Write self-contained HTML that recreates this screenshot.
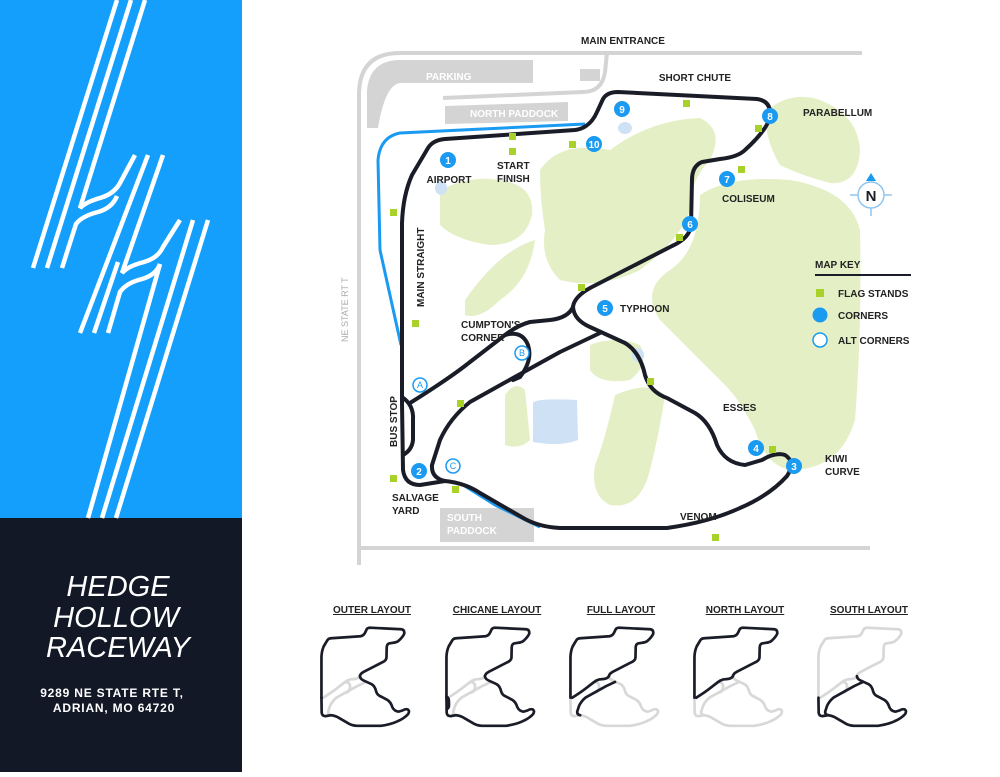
<!DOCTYPE html>
<html><head><meta charset="utf-8"><style>
html,body{margin:0;padding:0;background:#fff}
body{width:1000px;height:772px;position:relative;overflow:hidden;font-family:"Liberation Sans",sans-serif}
svg text{font-family:"Liberation Sans Narrow","Liberation Sans",sans-serif}
</style></head><body>
<svg width="1000" height="772" viewBox="0 0 1000 772" xmlns="http://www.w3.org/2000/svg">
<defs>
<path id="ptop" d="M402,403 L402,223 Q403,195 412,175 L428,148 Q433,140 445,139 L575,130 Q590,128 597,112 L603,99 Q607,92 618,92 L757,99 Q772,101 770,118 Q765,132 745,150 Q738,157 720,159 L702,162 Q692,166 692,180 L691,225 Q690,238 672,246 L590,288 Q574,297 573,307"/>
<path id="psouth" d="M573,307 Q574,320 590,327 L625,343 Q640,352 645,375 Q650,392 667,398 L695,413 Q710,422 717,445 Q725,463 745,465 L762,460 Q775,452 785,455 Q796,462 787,476 Q770,495 740,508 Q710,522 667,528 L560,528 Q540,527 525,519 L480,493 Q465,483 445,481 L420,485 Q405,485 403,470 L402,403"/>
<path id="pa" d="M573,307 Q568,318 550,320 L530,322 Q518,325 505,335 L470,362 Q450,378 410,403"/>
<path id="pdiag" d="M600,333 L560,352 L513,378 L470,402 Q450,418 440,440 L432,465 Q431,478 445,481"/>
<path id="pb" d="M505,335 Q522,330 528,345 Q533,360 520,377 L513,380"/>
<path id="pbus" d="M402,397 Q414,405 413,420 L413,440 Q412,450 403,455"/>
</defs>

<rect x="0" y="0" width="242" height="518" fill="#139ffb"/>
<rect x="0" y="518" width="242" height="254" fill="#131827"/>
<g stroke="#fff" stroke-width="4.5" fill="none">
<line x1="117" y1="0" x2="33" y2="268"/>
<line x1="131" y1="0" x2="47" y2="268"/>
<path d="M145,0 L80,208 Q86,202 100,198 Q114,194 120,183 L135,155"/>
<path d="M62,268 L76,224 Q82,216 98,212 Q112,208 117,196"/>
<line x1="148" y1="155" x2="80" y2="333"/>
<path d="M163,155 L122,273 Q128,266 144,262 Q158,258 163,247 L180,220"/>
<path d="M108,333 L120,292 Q126,283 142,279 Q156,275 160,264"/>
<path d="M94,333 L118,262"/>
<line x1="193" y1="220" x2="102" y2="518"/>
<line x1="208" y1="220" x2="116" y2="518"/>
<path d="M160,264 L88,518"/>
</g>
<g fill="#fff" font-style="italic" font-size="29" text-anchor="middle">
<text x="118" y="596" style="font-family:'Liberation Sans',sans-serif">HEDGE</text>
<text x="116" y="627" style="font-family:'Liberation Sans',sans-serif">HOLLOW</text>
<text x="118" y="657" style="font-family:'Liberation Sans',sans-serif">RACEWAY</text>
</g>
<g fill="#fff" font-weight="bold" font-size="12" text-anchor="middle" letter-spacing="0.8">
<text x="112" y="697" style="font-family:'Liberation Sans',sans-serif">9289 NE STATE RTE T,</text>
<text x="114" y="712" style="font-family:'Liberation Sans',sans-serif">ADRIAN, MO 64720</text>
</g>

<g fill="none" stroke="#d4d4d4" stroke-width="4">
<path d="M359,565 L359,95 Q359,53 400,53 L862,53"/>
<path d="M359,548 L870,548"/>
<path d="M607,53 L605,72 Q602,92 583,92 L443,98"/>
</g>
<path d="M367,128 L367,90 Q370,60 400,60 L533,60 L533,83 L400,83 Q385,85 378,128 Z" fill="#d4d4d4"/>
<rect x="580" y="69" width="20" height="12" fill="#d4d4d4"/>
<polygon points="445,106 568,102 568,121 445,124" fill="#d4d4d4"/>
<rect x="440" y="508" width="94" height="34" fill="#d4d4d4"/>
<g fill="#fff" font-size="10" font-weight="bold">
<text x="426" y="80">PARKING</text>
<text x="470" y="117">NORTH PADDOCK</text>
<text x="447" y="521">SOUTH</text>
<text x="447" y="534">PADDOCK</text>
</g>

<g fill="#e4efc6">
<path d="M765,112 Q790,90 820,100 Q858,115 860,150 Q858,185 830,183 Q800,175 780,165 Q765,140 765,112Z"/>
<path d="M700,195 Q730,175 790,180 Q850,190 860,230 Q862,330 855,420 Q840,470 790,470 Q765,465 755,430 Q740,400 725,385 Q700,360 660,320 Q640,290 670,270 Q700,250 700,195Z"/>
<path d="M540,170 Q560,140 610,150 Q650,120 700,118 Q725,130 710,160 Q690,180 690,210 Q680,240 640,270 Q600,290 560,280 Q540,260 545,230 Q540,200 540,170Z"/>
<path d="M440,190 Q470,175 500,180 Q535,185 532,215 Q525,245 490,245 Q455,240 440,225Z"/>
<path d="M465,300 Q500,250 535,240 Q530,280 500,300 Q480,320 465,315Z"/>
<path d="M590,345 Q615,335 640,345 Q650,365 630,380 Q600,385 590,370Z"/>
<path d="M505,395 Q515,380 525,390 L530,440 Q520,450 505,445Z"/>
<path d="M615,395 Q650,380 665,395 Q660,430 650,470 Q640,510 610,505 Q590,495 595,465 Q605,440 615,395Z"/>
</g>
<g fill="#cfe2f5">
<ellipse cx="441" cy="188" rx="6" ry="7"/>
<ellipse cx="625" cy="128" rx="7" ry="6"/>
<ellipse cx="638" cy="355" rx="6" ry="7"/>
<path d="M533,403 Q535,398 577,400 L578,440 Q560,447 533,442Z"/>
</g>

<g fill="none" stroke="#1a9af0" stroke-width="3">
<path d="M585,124 L400,133 Q380,137 378,160 L380,250 L401,345"/>
<path d="M460,483 L495,505 L540,527"/>
</g>

<g fill="none" stroke="#1a1d27" stroke-width="4" stroke-linejoin="round" stroke-linecap="round">
<use href="#ptop"/><use href="#psouth"/><use href="#pa"/><use href="#pdiag"/><use href="#pb"/><use href="#pbus"/>
</g>

<g fill="#a8d22a">
<rect x="509" y="148" width="7" height="7"/><rect x="509" y="133" width="7" height="7"/>
<rect x="390" y="209" width="7" height="7"/><rect x="412" y="320" width="7" height="7"/>
<rect x="390" y="475" width="7" height="7"/><rect x="457" y="400" width="7" height="7"/>
<rect x="452" y="486" width="7" height="7"/><rect x="712" y="534" width="7" height="7"/>
<rect x="769" y="446" width="7" height="7"/><rect x="647" y="378" width="7" height="7"/>
<rect x="569" y="141" width="7" height="7"/><rect x="676" y="234" width="7" height="7"/>
<rect x="738" y="166" width="7" height="7"/><rect x="755" y="125" width="7" height="7"/>
<rect x="683" y="100" width="7" height="7"/><rect x="578" y="284" width="7" height="7"/>
</g>

<g fill="#1a9af0">
<circle cx="448" cy="160" r="8"/><circle cx="419" cy="471" r="8"/><circle cx="794" cy="466" r="8"/>
<circle cx="756" cy="448" r="8"/><circle cx="605" cy="308" r="8"/><circle cx="690" cy="224" r="8"/>
<circle cx="727" cy="179" r="8"/><circle cx="770" cy="116" r="8"/><circle cx="622" cy="109" r="8"/>
<circle cx="594" cy="144" r="8"/>
</g>
<g fill="#fff" font-size="10" font-weight="bold" text-anchor="middle">
<text x="448" y="164">1</text><text x="419" y="475">2</text><text x="794" y="470">3</text>
<text x="756" y="452">4</text><text x="605" y="312">5</text><text x="690" y="228">6</text>
<text x="727" y="183">7</text><text x="770" y="120">8</text><text x="622" y="113">9</text>
<text x="594" y="148">10</text>
</g>
<g fill="#fff" stroke="#1a9af0" stroke-width="1.5">
<circle cx="420" cy="385" r="7"/><circle cx="522" cy="353" r="7"/><circle cx="453" cy="466" r="7"/>
</g>
<g fill="#1a9af0" font-size="9" text-anchor="middle">
<text x="420" y="388">A</text><text x="522" y="356">B</text><text x="453" y="469">C</text>
</g>

<g fill="#222" font-size="10" font-weight="bold">
<text x="623" y="44" text-anchor="middle">MAIN ENTRANCE</text>
<text x="695" y="81" text-anchor="middle">SHORT CHUTE</text>
<text x="803" y="116">PARABELLUM</text>
<text x="449" y="183" text-anchor="middle">AIRPORT</text>
<text x="497" y="169">START</text>
<text x="497" y="182">FINISH</text>
<text x="722" y="202">COLISEUM</text>
<text x="620" y="312">TYPHOON</text>
<text x="461" y="328">CUMPTON'S</text>
<text x="461" y="341">CORNER</text>
<text x="723" y="411">ESSES</text>
<text x="825" y="462">KIWI</text>
<text x="825" y="475">CURVE</text>
<text x="680" y="520">VENOM</text>
<text x="392" y="501">SALVAGE</text>
<text x="392" y="514">YARD</text>
<text transform="translate(397,447) rotate(-90)">BUS STOP</text>
<text transform="translate(424,307) rotate(-90)">MAIN STRAIGHT</text>
<text transform="translate(348,342) rotate(-90)" fill="#aaa" font-weight="normal" font-size="9">NE STATE RT T</text>
<text x="815" y="268">MAP KEY</text>
<text x="838" y="297">FLAG STANDS</text>
<text x="838" y="319">CORNERS</text>
<text x="838" y="344">ALT CORNERS</text>
</g>
<line x1="815" y1="275" x2="911" y2="275" stroke="#1a1d27" stroke-width="2"/>
<rect x="816" y="289" width="8" height="8" fill="#a8d22a"/>
<circle cx="820" cy="315" r="7.5" fill="#1a9af0"/>
<circle cx="820" cy="340" r="7" fill="#fff" stroke="#1a9af0" stroke-width="1.5"/>

<g stroke="#8fc6f0" stroke-width="1.5" fill="none">
<circle cx="871" cy="195" r="13"/>
<line x1="850" y1="195" x2="858" y2="195"/><line x1="884" y1="195" x2="892" y2="195"/>
<line x1="871" y1="208" x2="871" y2="216"/>
</g>
<polygon points="871,173 866,181 876,181" fill="#1a9af0"/>
<text x="871" y="201" text-anchor="middle" font-size="15" font-weight="bold" fill="#1a1d27">N</text>

<g font-size="10" font-weight="bold" fill="#222" text-anchor="middle" text-decoration="underline">
<text x="372" y="613">OUTER LAYOUT</text>
<text x="497" y="613">CHICANE LAYOUT</text>
<text x="621" y="613">FULL LAYOUT</text>
<text x="745" y="613">NORTH LAYOUT</text>
<text x="869" y="613">SOUTH LAYOUT</text>
</g>
<g fill="none" stroke-linejoin="round" stroke-linecap="round">
<g transform="translate(231,607) scale(0.225)">
<g stroke="#d8d8d8"><use href="#pa"/><use href="#pdiag"/><use href="#pb"/></g>
<g stroke="#1a1d27"><use href="#ptop"/><use href="#psouth"/></g>
</g>
<g transform="translate(356,607) scale(0.225)">
<g stroke="#d8d8d8"><use href="#pa"/><use href="#pdiag"/><use href="#pb"/></g>
<g stroke="#1a1d27"><use href="#ptop"/><use href="#psouth"/><use href="#pbus"/></g>
</g>
<g transform="translate(480,607) scale(0.225)">
<g stroke="#d8d8d8"><use href="#psouth"/><use href="#pb"/></g>
<g stroke="#1a1d27"><use href="#ptop"/><use href="#pa"/><use href="#pdiag"/></g>
</g>
<g transform="translate(604,607) scale(0.225)">
<g stroke="#d8d8d8"><use href="#psouth"/><use href="#pdiag"/><use href="#pb"/></g>
<g stroke="#1a1d27"><use href="#ptop"/><use href="#pa"/></g>
</g>
<g transform="translate(728,607) scale(0.225)">
<g stroke="#d8d8d8"><use href="#ptop"/><use href="#pa"/><use href="#pb"/></g>
<g stroke="#1a1d27"><use href="#psouth"/><use href="#pdiag"/></g>
</g>
</g>
</svg>
<style>
g[transform*="scale(0.225)"] use{stroke-width:12}
</style>
</body></html>
